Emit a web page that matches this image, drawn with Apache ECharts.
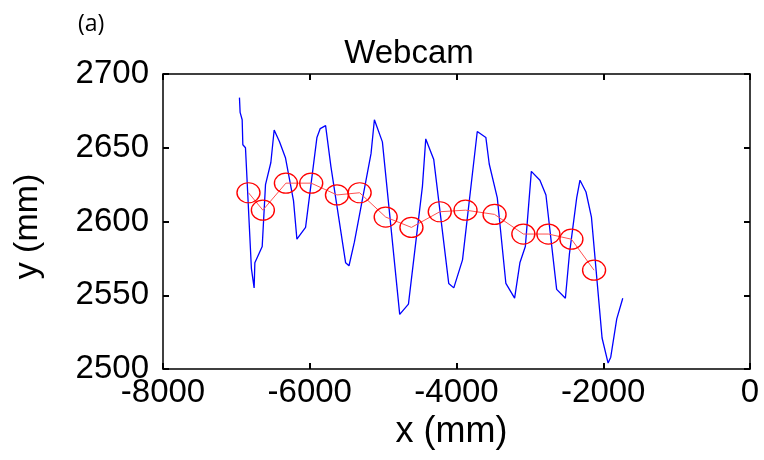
<!DOCTYPE html>
<html>
<head>
<meta charset="utf-8">
<script src="https://cdn.jsdelivr.net/npm/echarts@6/dist/echarts.min.js"></script>
<style>html,body{margin:0;padding:0;background:#fff;}#c{width:764px;height:460px;}</style>
</head>
<body>
<div id="c"></div>
<script>
var xTicks = [-8000, -6000, -4000, -2000, 0];
var yTicks = [2500, 2550, 2600, 2650, 2700];

var blueX = [-6958,-6949,-6921,-6912,-6876,-6795,-6758,-6748,-6648,-6603,-6530,-6485,-6412,-6330,-6221,-6175,-6057,-5902,-5857,-5784,-5711,-5511,-5465,-5392,-5165,-5119,-5010,-4774,-4655,-4464,-4419,-4310,-4106,-4037,-3918,-3717,-3600,-3554,-3444,-3327,-3208,-3136,-3062,-2980,-2863,-2781,-2635,-2516,-2461,-2362,-2317,-2235,-2161,-2016,-1934,-1898,-1816,-1734];
var blueY = [2684,2674,2669,2652,2650,2568,2555,2572,2583,2625,2640,2662,2654,2643,2614,2588,2596,2657,2663,2665,2637,2572,2570,2586,2646,2669,2654,2537,2544,2624,2656,2642,2558,2555,2574,2661,2657,2639,2616,2558,2548,2572,2583,2634,2628,2618,2554,2548,2578,2616,2628,2620,2603,2521,2504,2508,2534,2548];

var redX = [-6835,-6639,-6325,-5980,-5629,-5320,-4965,-4614,-4228,-3877,-3481,-3089,-2748,-2434,-2125];
var redY = [2619.5,2607.7,2626,2626,2618,2619.5,2603,2596,2606.6,2607.7,2604.8,2591.5,2591.5,2588,2567];

function zip(a, b) { return a.map(function (v, i) { return [v, b[i]]; }); }

var chart = echarts.init(document.getElementById('c'), null, {renderer: 'canvas'});
var font = 'Liberation Sans, Arial, sans-serif';
var axisLine = {show: true, onZero: false, lineStyle: {color: '#000', width: 1.5}};
var tick = {show: true, inside: true, length: 6, lineStyle: {color: '#000', width: 2}};
function mk(pos) {
  var horiz = pos === 'bottom' || pos === 'top';
  return {
    type: 'value', position: pos,
    min: horiz ? -8000 : 2500, max: horiz ? 0 : 2700, interval: horiz ? 2000 : 50,
    axisLine: axisLine, axisTick: tick, splitLine: {show: false}, axisLabel: {show: false}
  };
}
var xb = mk('bottom');
xb.name = 'x (mm)'; xb.nameLocation = 'middle'; xb.nameGap = 40;
xb.nameTextStyle = {fontFamily: font, fontSize: 36, color: '#000', padding: [0, 0, 0, -10]};
xb.axisLabel = {show: true, fontFamily: font, fontSize: 33, color: '#000', margin: 7,
  formatter: function (v) { return xTicks.indexOf(v) >= 0 ? String(v) : ''; }};
var yl = mk('left');
yl.name = 'y (mm)'; yl.nameLocation = 'middle'; yl.nameGap = 118; yl.nameRotate = 90;
yl.nameTextStyle = {fontFamily: font, fontSize: 34, color: '#000', padding: [0, 0, 0, -10]};
yl.axisLabel = {show: true, fontFamily: font, fontSize: 33, color: '#000', margin: 14,
  formatter: function (v) { return yTicks.indexOf(v) >= 0 ? String(v) : ''; }};

chart.setOption({
  animation: false,
  backgroundColor: '#fff',
  title: [
    {text: 'Webcam', left: 404, top: 32, textAlign: 'center',
     textStyle: {fontFamily: font, fontSize: 33, fontWeight: 'normal', color: '#000'}},
    {text: '(a)', left: 73, top: 8,
     textStyle: {fontFamily: 'Open Sans', fontSize: 23, fontWeight: 'normal', color: '#000'}}
  ],
  grid: {left: 163, right: 14, top: 74, bottom: 91, containLabel: false},
  xAxis: [xb, mk('top')],
  yAxis: [yl, mk('right')],
  series: [
    {type: 'line', data: zip(blueX, blueY), showSymbol: false, symbol: 'none',
     lineStyle: {color: '#0000ff', width: 1.3}, z: 2},
    {type: 'line', data: zip(redX, redY), symbol: 'circle', symbolSize: [23, 20], showAllSymbol: true,
     itemStyle: {color: 'rgba(0,0,0,0)', borderColor: '#ff0000', borderWidth: 1.3},
     lineStyle: {color: '#ff5050', width: 1}, z: 3}
  ]
});
</script>
</body>
</html>
